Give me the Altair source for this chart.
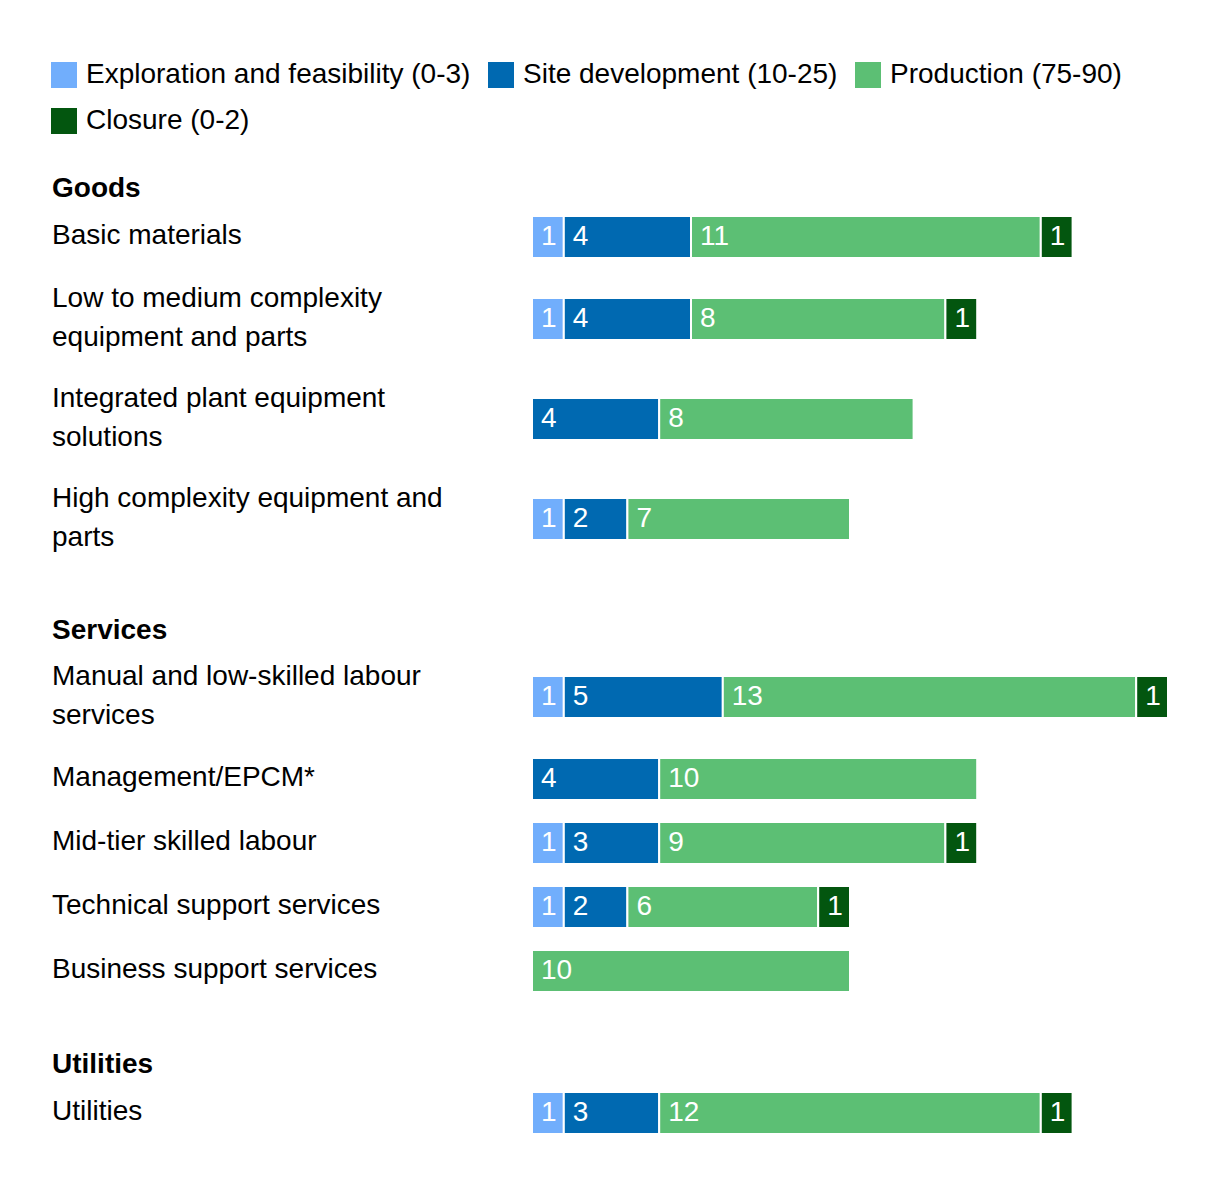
import altair as alt
import pandas as pd

# ---------------- data ----------------
phases = [
    "Exploration and feasibility (0-3)",
    "Site development (10-25)",
    "Production (75-90)",
    "Closure (0-2)",
]
phase_colors = ["#71aefc", "#0069b1", "#5cbf74", "#03560f"]

sections = ["Goods", "Services", "Utilities"]
categories = [
    "Basic materials",
    "Low to medium complexity|equipment and parts",
    "Integrated plant equipment|solutions",
    "High complexity equipment and|parts",
    "Manual and low-skilled labour|services",
    "Management/EPCM*",
    "Mid-tier skilled labour",
    "Technical support services",
    "Business support services",
    "Utilities",
]
category_section = ["Goods", "Goods", "Goods", "Goods",
                    "Services", "Services", "Services", "Services", "Services",
                    "Utilities"]

exploration = [1, 1, 0, 1, 1, 0, 1, 1, 0, 1]
site_development = [4, 4, 4, 2, 5, 4, 3, 2, 0, 3]
production = [11, 8, 8, 7, 13, 10, 9, 6, 10, 12]
closure = [1, 1, 0, 0, 1, 0, 1, 1, 0, 1]

# ---------------- layout (derived) ----------------
W, H = 1204, 1166
FONT = "Liberation Sans"
FS = 28
TOP = 165
HEADER_H = 32
ROW_H = {1: 64, 2: 100}
SECTION_GAP = 46
LINE_H = 39

row_center = {}
header_center = {}
y = TOP
for si, sec in enumerate(sections):
    if si > 0:
        y += SECTION_GAP
    header_center[sec] = y + HEADER_H / 2
    y += HEADER_H
    for cat, cs in zip(categories, category_section):
        if cs != sec:
            continue
        n = len(cat.split("|"))
        row_center[cat] = y + ROW_H[n] / 2
        y += ROW_H[n]

# bars
series = [exploration, site_development, production, closure]
bar_rows = []
for ci, cat in enumerate(categories):
    start = 0
    for pi, ph in enumerate(phases):
        v = series[pi][ci]
        if v > 0:
            bar_rows.append({"cat": cat, "phase": ph, "order": pi, "value": v,
                             "start": start, "end": start + v, "yc": row_center[cat]})
        start += v
bars_df = pd.DataFrame(bar_rows)

# category labels (one row per text line)
label_rows = []
for cat in categories:
    lines = cat.split("|")
    n = len(lines)
    for i, ln in enumerate(lines):
        label_rows.append({"text": ln, "yc": row_center[cat] - 1 + (i - (n - 1) / 2) * LINE_H})
labels_df = pd.DataFrame(label_rows)

headers_df = pd.DataFrame({"text": sections, "yc": [header_center[s] for s in sections]})

# ---------------- scales ----------------
yscale = alt.Scale(domain=[0, H], range=[0, H], padding=0, nice=False, zero=False)
UNIT = 31.8
X0 = 524
xscale = alt.Scale(domain=[0, 20], range=[X0, X0 + 20 * UNIT], padding=0, nice=False)

bars = alt.Chart(bars_df).mark_bar(
    orient="horizontal", size=42, stroke="white", strokeWidth=2
).encode(
    x=alt.X("start:Q", scale=xscale, axis=None),
    x2="end:Q",
    y=alt.Y("yc:Q", scale=yscale, axis=None),
    color=alt.Color(
        "phase:N",
        sort=phases,
        scale=alt.Scale(domain=phases, range=phase_colors),
        legend=alt.Legend(
            title=None, orient="none", legendX=42, legendY=53, columns=3,
            direction="horizontal", values=phases,
            symbolType="square", symbolSize=676, symbolStrokeWidth=0,
            symbolOpacity=1, labelFontSize=FS, labelFont=FONT,
            labelColor="black", labelLimit=1000, labelOffset=8,
            columnPadding=16, rowPadding=18, padding=0,
        ),
    ),
    order=alt.Order("order:Q"),
)

bar_text = alt.Chart(bars_df).mark_text(
    align="left", baseline="middle", dx=9, color="white", fontSize=FS, font=FONT
).encode(
    x=alt.X("start:Q", scale=xscale, axis=None),
    y=alt.Y("yc:Q", scale=yscale, axis=None),
    text="value:Q",
)

cat_text = alt.Chart(labels_df).mark_text(
    align="left", baseline="middle", color="black", fontSize=FS, font=FONT
).encode(
    x=alt.value(44),
    y=alt.Y("yc:Q", scale=yscale, axis=None),
    text="text:N",
)

head_text = alt.Chart(headers_df).mark_text(
    align="left", baseline="middle", color="black", fontSize=FS, font=FONT,
    fontWeight="bold"
).encode(
    x=alt.value(44),
    y=alt.Y("yc:Q", scale=yscale, axis=None),
    text="text:N",
)

chart = alt.layer(bars, bar_text, cat_text, head_text).properties(
    width=W, height=H, padding=0, autosize=alt.AutoSizeParams(type="none")
).configure_view(stroke=None)

chart.save("out.html", embed_options={"renderer": "svg", "actions": False})
